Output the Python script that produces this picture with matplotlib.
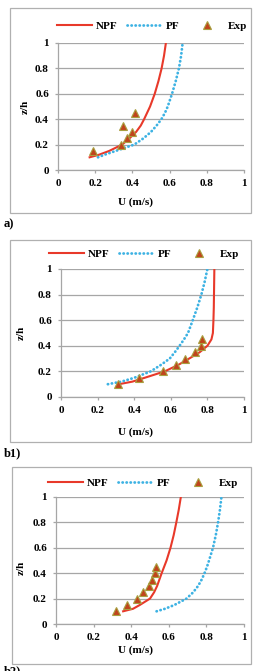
import matplotlib
matplotlib.use("Agg")
import matplotlib.pyplot as plt
from matplotlib.patches import Rectangle

W, H = 257, 671

# ---- data ----
# panel a)
z_a_npf = [0.1, 0.12, 0.15, 0.2, 0.25, 0.3, 0.35, 0.4, 0.5, 0.6, 0.7, 0.8, 0.9, 1.0]
u_a_npf = [0.17, 0.22, 0.275, 0.345, 0.385, 0.42, 0.445, 0.463, 0.495, 0.52, 0.54, 0.557, 0.57, 0.58]
z_a_pf = [0.1, 0.12, 0.15, 0.2, 0.25, 0.3, 0.35, 0.4, 0.45, 0.5, 0.6, 0.7, 0.8, 0.9, 1.0]
u_a_pf = [0.215, 0.25, 0.31, 0.41, 0.46, 0.50, 0.53, 0.556, 0.575, 0.59, 0.613, 0.633, 0.65, 0.662, 0.67]
z_a_exp = [0.15, 0.2, 0.25, 0.3, 0.35, 0.45]
u_a_exp = [0.19, 0.34, 0.37, 0.40, 0.35, 0.415]

# panel b1)
z_b1_npf = [0.1, 0.12, 0.15, 0.2, 0.25, 0.3, 0.35, 0.4, 0.45, 0.5, 0.6, 0.7, 1.0]
u_b1_npf = [0.316, 0.39, 0.457, 0.566, 0.64, 0.70, 0.758, 0.80, 0.822, 0.83, 0.833, 0.835, 0.838]
z_b1_pf = [0.1, 0.12, 0.15, 0.2, 0.25, 0.3, 0.35, 0.4, 0.45, 0.5, 0.6, 0.7, 0.8, 0.9, 1.0]
u_b1_pf = [0.256, 0.33, 0.40, 0.49, 0.545, 0.594, 0.622, 0.648, 0.672, 0.694, 0.72, 0.745, 0.767, 0.785, 0.80]
z_b1_exp = [0.1, 0.15, 0.2, 0.25, 0.3, 0.35, 0.4, 0.45]
u_b1_exp = [0.312, 0.427, 0.56, 0.628, 0.676, 0.73, 0.767, 0.773]

# panel b2)
z_b2_npf = [0.1, 0.12, 0.15, 0.2, 0.25, 0.3, 0.35, 0.4, 0.45, 0.5, 0.6, 0.7, 0.8, 0.9, 1.0]
u_b2_npf = [0.357, 0.41, 0.446, 0.50, 0.522, 0.538, 0.55, 0.562, 0.575, 0.588, 0.609, 0.626, 0.64, 0.653, 0.664]
z_b2_pf = [0.1, 0.12, 0.15, 0.2, 0.25, 0.3, 0.35, 0.4, 0.45, 0.5, 0.6, 0.7, 0.8, 0.9, 1.0]
u_b2_pf = [0.535, 0.58, 0.63, 0.694, 0.73, 0.756, 0.775, 0.79, 0.803, 0.814, 0.835, 0.85, 0.862, 0.872, 0.88]
z_b2_exp = [0.1, 0.15, 0.2, 0.25, 0.3, 0.35, 0.4, 0.45]
u_b2_exp = [0.319, 0.377, 0.43, 0.464, 0.494, 0.51, 0.524, 0.531]

ticks = [0, 0.2, 0.4, 0.6, 0.8, 1]
tick_labels = ["0", "0.2", "0.4", "0.6", "0.8", "1"]

RED = "#E8392A"
BLUE = "#3DB2E3"
GRID = "#A6A6A6"
FONT = "Liberation Serif"
FS = 8

plt.rcParams["font.family"] = FONT
plt.rcParams["font.weight"] = "bold"

fig = plt.figure(figsize=(W / 100, H / 100), dpi=100)


def px_axes(x0, y0, x1, y1):
    return fig.add_axes([x0 / W, 1 - y1 / H, (x1 - x0) / W, (y1 - y0) / H])


def frame(x0, y0, x1, y1):
    fig.patches.append(Rectangle((x0 / W, 1 - y1 / H), (x1 - x0) / W, (y1 - y0) / H,
                                 transform=fig.transFigure, fill=False,
                                 edgecolor="#B0B0B0", linewidth=0.9))


def panel(box, frm, u_npf, z_npf, u_pf, z_pf, u_exp, z_exp, leg_xy, xlab_xy, ylab_xy, tag, tag_y):
    frame(*frm)
    ax = px_axes(*box)
    ax.plot(u_npf, z_npf, color=RED, lw=1.5, label="NPF")
    ax.plot(u_pf, z_pf, color=BLUE, lw=2.0, linestyle=(0, (0.1, 1.35)),
            dash_capstyle="round", label="PF")
    ax.plot(u_exp, z_exp, linestyle="none", marker="^", markersize=5.5,
            markerfacecolor="#C0441C", markeredgecolor="#A8A040",
            markeredgewidth=0.8, label="Exp")
    ax.set_xlim(0, 1)
    ax.set_ylim(0, 1)
    ax.set_xticks(ticks)
    ax.set_xticklabels(tick_labels)
    ax.set_yticks(ticks)
    ax.set_yticklabels(tick_labels)
    ax.yaxis.grid(True, color=GRID, lw=0.9)
    ax.set_axisbelow(True)
    for s in ["top", "right"]:
        ax.spines[s].set_visible(False)
    for s in ["left", "bottom"]:
        ax.spines[s].set_color(GRID)
        ax.spines[s].set_linewidth(0.9)
    ax.tick_params(colors=GRID, length=2.5, width=0.9, labelsize=FS, pad=4)
    for t in ax.get_xticklabels() + ax.get_yticklabels():
        t.set_color("black")
        t.set_fontweight("bold")
    ax.set_facecolor("none")
    ax.legend(loc="center", bbox_to_anchor=(leg_xy[0] / W, 1 - leg_xy[1] / H),
              bbox_transform=fig.transFigure, ncol=3, frameon=False,
              fontsize=FS, handlelength=3.15, columnspacing=0.9,
              handletextpad=0.3, borderaxespad=0, borderpad=0)
    fig.text(xlab_xy[0] / W, 1 - xlab_xy[1] / H, "U (m/s)", ha="center", va="center",
             fontsize=FS, fontweight="bold")
    fig.text(ylab_xy[0] / W, 1 - ylab_xy[1] / H, "z/h", ha="center", va="center",
             rotation=90, fontsize=FS, fontweight="bold")
    fig.text(4 / W, 1 - tag_y / H, tag, ha="left", va="center",
             fontsize=9, fontweight="bold")
    return ax


panel((58, 43, 244, 170), (10, 8, 251, 213),
      u_a_npf, z_a_npf, u_a_pf, z_a_pf, u_a_exp, z_a_exp,
      (152, 26), (135, 202), (25, 107), "a)", 224)
panel((61, 269, 244, 397), (10, 240, 251, 442),
      u_b1_npf, z_b1_npf, u_b1_pf, z_b1_pf, u_b1_exp, z_b1_exp,
      (144, 254), (135, 432), (21, 333), "b1)", 453)
panel((56, 497, 244, 624), (12, 467, 251, 664),
      u_b2_npf, z_b2_npf, u_b2_pf, z_b2_pf, u_b2_exp, z_b2_exp,
      (143, 483), (135, 650), (21, 568), "b2)", 671)

fig.savefig("out.png", dpi=100)
